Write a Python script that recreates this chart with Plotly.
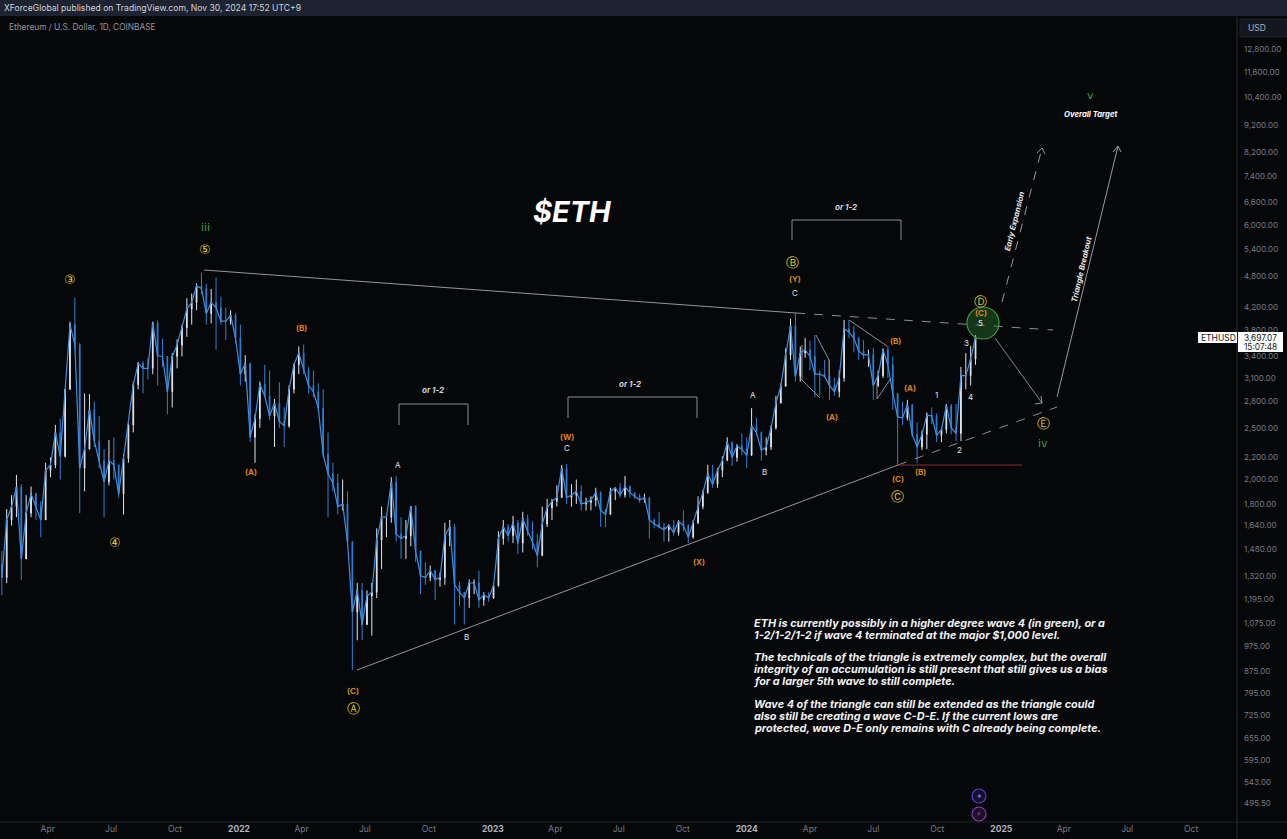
import pandas as pd
import plotly.graph_objects as go

W, H = 1287, 839
LEFT_PX, RIGHT_PX, TOP_PX, BOTTOM_PX = 0, 1237, 17, 822

# weekly bars, one row per year
closes = [
 1310,1680,1780,1935,1420,1730,1880,1780,1680,2080,2130,2450,2210,2950,3900,3580,2100,2280,2700,2360,2170,1980,2170,2130,1880,2190,2530,3010,3300,3230,3230,3930,3410,3400,2920,3400,3570,3850,4170,4290,4610,4560,4090,4290,4200,3960,3960,4060,3680,
 3150,3300,2400,2600,3020,2870,2630,2780,2570,2520,2950,3280,3450,3200,3000,2920,2720,2230,2050,1970,1780,1800,1530,1130,1240,1070,1210,1230,1540,1700,1700,1980,1580,1550,1570,1780,1470,1320,1310,1350,1300,1310,1570,1630,1270,1230,1200,1280,1280,1190,1215,1200,
 1265,1550,1630,1570,1660,1520,1690,1600,1530,1440,1650,1770,1820,1850,2100,1850,1870,1900,1800,1810,1830,1890,1750,1720,1900,1930,1870,1940,1890,1860,1830,1850,1680,1650,1630,1610,1640,1590,1670,1640,1560,1660,1780,1890,2050,1960,2080,2170,2350,2200,2310,2280,
 2220,2520,2450,2270,2300,2500,2780,2990,3420,3880,3120,3450,3500,3400,3150,3150,3120,3000,2920,3100,3830,3780,3680,3480,3420,3430,3000,3130,3500,3280,2900,2620,2610,2760,2430,2300,2430,2640,2630,2420,2480,2750,2500,2440,3130,3130,3360,3697]
highs = [
 1470,1760,1870,2040,1960,1870,1940,1890,1820,2150,2200,2530,2600,2950,3950,4380,3600,2900,2890,2800,2630,2280,2370,2400,2130,2230,2550,3050,3320,3330,3380,3950,3970,3670,3400,3450,3660,3900,4370,4460,4660,4878,4650,4550,4780,4400,4200,4150,4100,
 3900,3420,3300,2650,3050,3280,3200,2830,3040,2730,3000,3300,3550,3580,3250,3200,3030,2950,2450,2150,2050,2000,1900,1530,1280,1280,1240,1280,1620,1780,1720,2020,2030,1700,1680,1780,1790,1400,1400,1380,1340,1340,1660,1680,1650,1290,1230,1300,1300,1350,1230,1230,
 1280,1600,1680,1650,1710,1680,1740,1720,1670,1580,1780,1840,1840,1950,2130,2140,1960,2000,1950,1850,1860,1930,1900,1760,1930,1930,1970,2030,1950,1890,1880,1880,1850,1690,1740,1660,1650,1680,1680,1750,1650,1680,1860,1910,2130,2130,2100,2210,2400,2340,2330,2440,
 2400,2720,2610,2460,2400,2530,2870,3030,3520,4000,4100,3550,3680,3640,3730,3200,3350,3350,3100,3200,3980,3980,3880,3700,3650,3500,3530,3200,3520,3560,3400,2700,2800,2820,2770,2560,2470,2670,2730,2660,2500,2770,2770,2770,3250,3450,3560,3730]
lows = [
 1215,1280,1640,1700,1296,1450,1700,1680,1560,1700,2020,2100,2000,2200,2950,3500,1730,1900,2300,2300,2100,1700,1950,2000,1850,1720,2150,2450,2950,2900,3080,3150,3000,3250,2650,2730,3230,3400,3700,3900,4150,4450,3900,3920,3500,3900,3650,3900,3600,
 3000,3050,2350,2150,2500,2850,2580,2300,2500,2300,2500,2900,3150,3150,2900,2850,2700,2200,1700,1900,1720,1750,1500,880,1000,1000,1080,1020,1200,1360,1560,1660,1530,1420,1420,1500,1400,1220,1270,1290,1190,1260,1270,1500,1070,1160,1070,1150,1220,1150,1160,1180,
 1195,1260,1510,1530,1520,1450,1460,1570,1480,1370,1440,1630,1680,1780,1850,1800,1780,1800,1750,1750,1750,1780,1630,1630,1720,1830,1850,1850,1850,1840,1810,1810,1550,1620,1620,1530,1530,1570,1570,1600,1520,1550,1650,1760,1880,1930,1930,2020,2170,2120,2160,2220,
 2100,2300,2420,2170,2220,2270,2480,2850,3020,3350,3050,3050,3380,3200,2850,2870,3100,2820,2870,2850,3050,3680,3460,3350,3360,3250,2820,2980,3100,3100,2700,2130,2530,2580,2400,2150,2270,2280,2540,2350,2350,2440,2430,2360,2360,2950,3000,3280]
first_date = "2021-01-25"

price_ticks = [12800,11600,10400,9200,8200,7400,6600,6000,5400,4800,4200,3800,3400,3100,2800,2500,2200,2000,1800,1640,1480,1320,1195,1075,975,875,795,725,655,595,543,495.5]
month_ticks = ["2021-04-01","2021-07-01","2021-10-01","2022-01-01","2022-04-01","2022-07-01","2022-10-01","2023-01-01","2023-04-01","2023-07-01","2023-10-01","2024-01-01","2024-04-01","2024-07-01","2024-10-01","2025-01-01","2025-04-01","2025-07-01","2025-10-01"]
month_labels = ["Apr","Jul","Oct","2022","Apr","Jul","Oct","2023","Apr","Jul","Oct","2024","Apr","Jul","Oct","2025","Apr","Jul","Oct"]

assert len(closes) == len(highs) == len(lows)
dates = pd.date_range(first_date, periods=len(closes), freq="7D")
opens = [1390] + closes[:-1]

def px(x):
    return (x - LEFT_PX) / (RIGHT_PX - LEFT_PX)
def py(y):
    return 1 - (y - TOP_PX) / (BOTTOM_PX - TOP_PX)

BG = "#060709"
fig = go.Figure()
fig.add_trace(go.Scatter(x=dates, y=closes, mode="lines", line=dict(color="#3f8fdf", width=1.2), showlegend=False))
fig.add_trace(go.Candlestick(
    x=dates, open=opens, high=highs, low=lows, close=closes,
    increasing=dict(line=dict(color="#dfe6f0", width=1), fillcolor="#dfe6f0"),
    decreasing=dict(line=dict(color="#2f80d8", width=1), fillcolor="#2f80d8"),
    whiskerwidth=0, showlegend=False))

annotations, shapes = [], []
def text(x, y, s, color="#ffffff", size=8, font="Inter", angle=0, anchor="center"):
    annotations.append(dict(x=px(x), y=py(y), xref="paper", yref="paper", text=s, showarrow=False,
        font=dict(color=color, size=size, family=font), textangle=angle, xanchor=anchor, yanchor="middle"))
def line(x0, y0, x1, y1, color="#8a8d96", width=1, dash="solid"):
    shapes.append(dict(type="line", xref="paper", yref="paper", x0=px(x0), y0=py(y0), x1=px(x1), y1=py(y1),
        line=dict(color=color, width=width, dash=dash)))
def poly(points, color="#8a8d96", width=1):
    for a, b in zip(points, points[1:]):
        line(a[0], a[1], b[0], b[1], color, width)
def rect(x0, y0, x1, y1, fill, border=None, layer="above"):
    shapes.append(dict(type="rect", xref="paper", yref="paper", x0=px(x0), y0=py(y0), x1=px(x1), y1=py(y1),
        fillcolor=fill, line=dict(color=border or fill, width=1 if border else 0), layer=layer))

# chrome
rect(0, 0, W, 16, "#1d2330")
rect(1240, 19, 1287, 37, "#14171e", "#1f232c")
line(1237, 17, 1237, 839, "#2a2e39")
line(0, 822, W, 822, "#1e222b")
text(2, 8, "XForceGlobal published on TradingView.com, Nov 30, 2024 17:52 UTC+9", "#d1d4dc", 8.6, anchor="left")
text(7, 27, "Ethereum / U.S. Dollar, 1D, COINBASE", "#9598a1", 8.3, anchor="left")
text(1246, 28, "USD", "#b2b5be", 8.5, anchor="left")

# trend lines
line(204, 270, 796, 313, "#a3a6ad", 0.9)
line(796, 313, 1053, 330, "#9a9da5", 0.9, dash="dash")
line(357, 670, 898, 465, "#a3a6ad", 0.9)
line(898, 465, 1057, 407, "#9a9da5", 0.9, dash="dash")
line(898, 465, 1022, 465, "#8e2a30", 1.2)
poly([(399, 425), (399, 404), (468, 404), (468, 425)])
poly([(568, 418), (568, 397), (697, 397), (697, 418)])
poly([(792, 240), (792, 220), (901, 220), (901, 240)])
poly([(802, 345), (802, 380), (820, 398)])
poly([(816, 335), (829, 360), (829, 385)])
line(849, 320, 887, 346)
poly([(891, 378), (877, 399), (877, 383)])

# arrows
def arrow_head(x, y, a, b, c, d):
    poly([(x + a, y + b), (x, y), (x + c, y + d)], "#a6a9b0", 0.9)
line(995, 338, 1042, 403, "#94979e", 0.9)
arrow_head(1042, 403, -1, -7, -7, 1)
line(1057, 397, 1118, 146, "#a6a9b0", 0.9)
arrow_head(1118, 146, -5, 6, 3, 6)
line(1002, 302, 1042, 148, "#a6a9b0", 0.9, dash="dash")
arrow_head(1042, 148, -5, 5, 3, 6)

# target circle
shapes.append(dict(type="circle", xref="paper", yref="paper", x0=px(967), x1=px(999), y0=py(339), y1=py(307),
    fillcolor="rgba(46,125,50,0.40)", line=dict(color="#3f9a4a", width=1.2)))

# icons
shapes.append(dict(type="circle", xref="paper", yref="paper", x0=px(972), x1=px(986), y0=py(803), y1=py(789),
    fillcolor="#150f2c", line=dict(color="#5b3fd6", width=1.2)))
shapes.append(dict(type="circle", xref="paper", yref="paper", x0=px(972), x1=px(986), y0=py(821), y1=py(807),
    fillcolor="#1c0f28", line=dict(color="#8a3cb5", width=1.2)))
text(979, 796, "✦", "#7a63ee", 8, "DejaVu Sans")
text(979, 814, "⚡", "#9a4cc5", 8, "DejaVu Sans")

# wave labels
ORANGE = "#d9841a"
for x, y, s in [(301, 328, "(B)"), (251, 472, "(A)"), (567, 437, "(W)"), (795, 279, "(Y)"), (832, 417, "(A)"), (896, 341, "(B)"),
                (910, 388, "(A)"), (898, 479, "(C)"), (920, 472, "(B)"), (353, 691, "(C)"), (699, 562, "(X)"), (981, 313, "(C)")]:
    text(x, y, f"<b>{s}</b>", ORANGE, 8)
for x, y, s in [(398, 465, "A"), (466, 637, "B"), (567, 448, "C"), (753, 395, "A"), (764, 472, "B"), (795, 293, "C"),
                (936, 395, "1"), (960, 450, "2"), (966, 343, "3"), (970, 397, "4"), (980, 323, "5")]:
    text(x, y, s, "#e3e5ea", 8)
for x, y, s in [(70, 279, "③"), (115, 542, "④"), (205, 250, "⑤"), (353, 708, "Ⓐ"), (792, 262, "Ⓑ"), (897, 496, "Ⓒ"), (980, 301, "Ⓓ"), (1043, 423, "Ⓔ")]:
    text(x, y, s, "#dcc62e", 13, "DejaVu Sans")
for x, y, s in [(205, 227, "iii"), (1043, 443, "iv"), (1090, 96, "v")]:
    text(x, y, s, "#3f9a4a", 11, "DejaVu Sans")
for x, y in [(433, 390), (631, 384), (846, 207)]:
    text(x, y, "<b><i>or 1-2</i></b>", "#d1d4dc", 8)
text(1090, 115, "<b><i>Overall Target</i></b>", "#ffffff", 7.7)
text(1015, 222, "<b><i>Early Expansion</i></b>", "#e8e9ec", 7.7, angle=-76)
text(1081, 270, "<b><i>Triangle Breakout</i></b>", "#e8e9ec", 7.7, angle=-77)
text(572, 211, "<b><i>$ETH</i></b>", "#ffffff", 29)

# commentary
for y, s in [(623, "ETH is currently possibly in a higher degree wave 4 (in green), or a"),
             (635, "1-2/1-2/1-2 if wave 4 terminated at the major $1,000 level."),
             (657, "The technicals of the triangle is extremely complex, but the overall"),
             (669, "integrity of an accumulation is still present that still gives us a bias"),
             (681, "for a larger 5th wave to still complete."),
             (703.5, "Wave 4 of the triangle can still be extended as the triangle could"),
             (715.5, "also still be creating a wave C-D-E. If the current lows are"),
             (727.5, "protected, wave D-E only remains with C already being complete.")]:
    text(752, y, f"<b><i>{s}</i></b>", "#f0f1f3", 10.85, anchor="left")

# last price tag
rect(1198, 332, 1237, 343, "#ffffff")
rect(1238, 332, 1283, 352, "#ffffff")
text(1218, 338, "ETHUSD", "#131722", 8.5)
text(1260, 338, "3,697.07", "#131722", 8.3)
text(1260, 347, "15:07:48", "#131722", 8.3)

x_ticks = [pd.Timestamp(d) for d in month_ticks]
x_text = [f"<span style='color:#b2b5be'><b>{t}</b></span>" if t.isdigit() else t for t in month_labels]
day0 = pd.Timestamp("2022-01-01")
PX_PER_DAY = 0.6955
x_range = [day0 + pd.Timedelta(days=(LEFT_PX - 239) / PX_PER_DAY), day0 + pd.Timedelta(days=(RIGHT_PX - 239) / PX_PER_DAY)]

fig.update_layout(
    width=W, height=H, autosize=False,
    margin=dict(l=LEFT_PX, r=W - RIGHT_PX, t=TOP_PX, b=H - BOTTOM_PX, pad=0),
    paper_bgcolor=BG, plot_bgcolor=BG, boxgap=0.78, hovermode=False,
    font=dict(family="Inter", color="#787b86", size=9),
    annotations=annotations, shapes=shapes,
    xaxis=dict(type="date", range=x_range, rangeslider=dict(visible=False), showgrid=False, zeroline=False,
               tickmode="array", tickvals=x_ticks, ticktext=x_text, ticks="", showline=False,
               tickfont=dict(size=8.5, color="#787b86", family="Inter")),
    yaxis=dict(type="log", side="right", range=[2.6596, 4.1672], showgrid=False, zeroline=False,
               tickmode="array", tickvals=price_ticks, ticktext=[f"{v:,.2f}" for v in price_ticks], ticks="", showline=False,
               ticklabelstandoff=6,
               tickfont=dict(size=8, color="#787b86", family="Inter")),
)
fig.write_html("out.html", config={"displayModeBar": False},
               post_script="document.body.style.margin='0';document.body.style.background='#060709';")
